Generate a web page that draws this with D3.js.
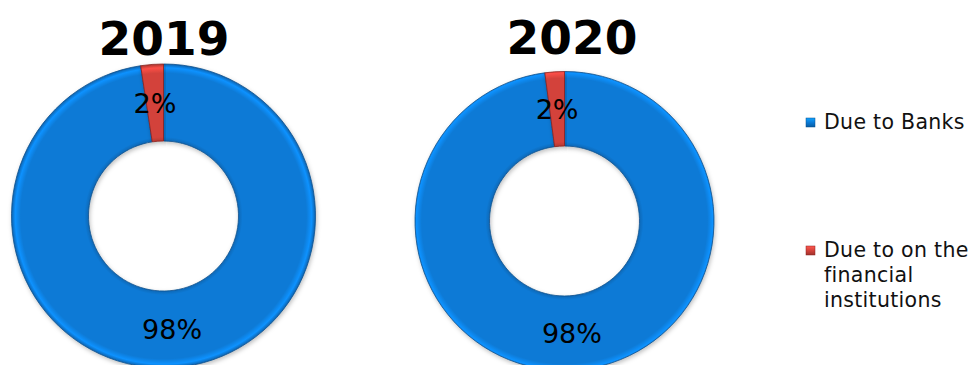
<!DOCTYPE html>
<html>
<head>
<meta charset="utf-8">
<script src="https://cdn.jsdelivr.net/npm/d3@7"></script>
<style>
  body { margin: 0; background: #fff; }
  svg { display: block; }
</style>
</head>
<body>
<svg></svg>
<script>
const years = ['2019', '2020'];
const categories = ['Due to Banks', 'Due to on the financial institutions'];
const dueToBanks = [97.6, 97.9];
const dueToOthers = [2.4, 2.1];
const colors = ['#0b7ad6', '#d3423b'];
const edgeColors = ['#0a4f8c', '#8a2320'];

const width = 974;
const height = 365;

const svg = d3.select('svg').attr('width', width).attr('height', height);
const defs = svg.append('defs');

// soft bevel look: radial gradient per colour
colors.forEach((c, i) => {
  const g = defs
    .append('radialGradient')
    .attr('id', 'grad' + i)
    .attr('gradientUnits', 'userSpaceOnUse')
    .attr('cx', 0)
    .attr('cy', 0)
    .attr('r', 152);
  g.append('stop').attr('offset', '0.49').attr('stop-color', d3.color(c).darker(0.5));
  g.append('stop').attr('offset', '0.52').attr('stop-color', c);
  g.append('stop').attr('offset', '0.94').attr('stop-color', c);
  g.append('stop').attr('offset', '0.975').attr('stop-color', d3.color(c).brighter(0.5));
  g.append('stop').attr('offset', '1').attr('stop-color', d3.color(c).darker(0.6));

  const lg = defs
    .append('linearGradient')
    .attr('id', 'key' + i)
    .attr('x1', 0).attr('y1', 0).attr('x2', 0).attr('y2', 1);
  lg.append('stop').attr('offset', '0').attr('stop-color', d3.color(c).brighter(0.8));
  lg.append('stop').attr('offset', '0.5').attr('stop-color', c);
  lg.append('stop').attr('offset', '1').attr('stop-color', d3.color(c).darker(0.8));
});

const shadow = defs.append('filter').attr('id', 'shadow')
  .attr('x', '-10%').attr('y', '-10%').attr('width', '120%').attr('height', '120%');
shadow.append('feDropShadow')
  .attr('dx', 1).attr('dy', 2).attr('stdDeviation', 2)
  .attr('flood-color', '#000').attr('flood-opacity', 0.25);

const donuts = [
  { cx: 163.5, cy: 216, outer: 152, inner: 75, titleX: 164, titleY: 55 },
  { cx: 564.5, cy: 221, outer: 149.5, inner: 75, titleX: 572, titleY: 54 }
];

const pie = d3.pie().sort(null).value((d) => d);
const pct = (v) => Math.round(v) + '%';

years.forEach((year, i) => {
  const cfg = donuts[i];
  const values = [dueToBanks[i], dueToOthers[i]];
  const arc = d3.arc().innerRadius(cfg.inner).outerRadius(cfg.outer);
  const labelArc = d3.arc()
    .innerRadius((cfg.inner + cfg.outer) / 2)
    .outerRadius((cfg.inner + cfg.outer) / 2);

  const g = svg.append('g')
    .attr('transform', 'translate(' + cfg.cx + ',' + cfg.cy + ')');

  const slices = pie(values);

  g.selectAll('path')
    .data(slices)
    .enter()
    .append('path')
    .attr('d', arc)
    .attr('fill', (_, j) => 'url(#grad' + j + ')')
    .attr('stroke', (_, j) => edgeColors[j])
    .attr('stroke-width', 0.8)
    .attr('filter', 'url(#shadow)');

  g.selectAll('text.lbl')
    .data(slices)
    .enter()
    .append('text')
    .attr('class', 'lbl')
    .attr('transform', (d) => 'translate(' + labelArc.centroid(d) + ')')
    .attr('text-anchor', 'middle')
    .attr('dy', '0.36em')
    .style('font-family', 'DejaVu Sans, Verdana, sans-serif')
    .style('font-size', '27px')
    .style('fill', '#000')
    .text((d) => pct(d.value));

  svg.append('text')
    .attr('x', cfg.titleX)
    .attr('y', cfg.titleY)
    .attr('text-anchor', 'middle')
    .style('font-family', 'DejaVu Sans, Verdana, sans-serif')
    .style('font-weight', 'bold')
    .style('font-size', '47px')
    .style('fill', '#000')
    .text(year);
});

// legend
const legendRows = [
  { y: 129, lines: ['Due to Banks'] },
  { y: 257, lines: ['Due to on the', 'financial', 'institutions'] }
];

const legend = svg.append('g');
categories.forEach((cat, i) => {
  const row = legendRows[i];
  legend.append('rect')
    .attr('x', 806)
    .attr('y', row.y - 11)
    .attr('width', 9)
    .attr('height', 9)
    .attr('fill', 'url(#key' + i + ')')
    .attr('stroke', edgeColors[i])
    .attr('stroke-width', 0.5);

  const t = legend.append('text')
    .attr('x', 824)
    .attr('y', row.y)
    .style('font-family', 'DejaVu Sans, Verdana, sans-serif')
    .style('font-size', '20.5px')
    .style('letter-spacing', '0.3px')
    .style('fill', '#111');
  row.lines.forEach((line, k) => {
    t.append('tspan')
      .attr('x', 824)
      .attr('dy', k === 0 ? 0 : 25)
      .text(line);
  });
});
</script>
</body>
</html>
